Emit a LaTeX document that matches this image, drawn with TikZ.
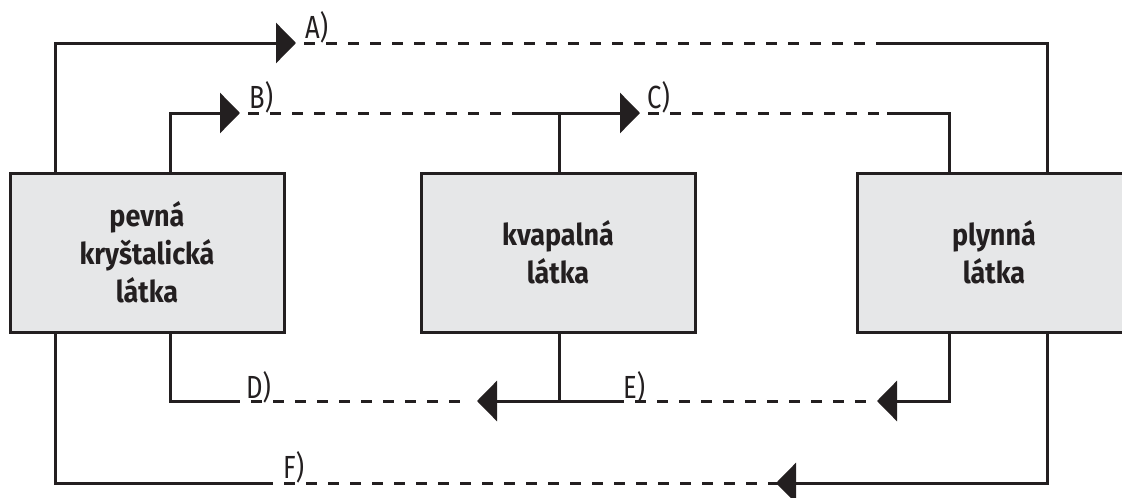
\documentclass[tikz,border=0pt]{standalone}
\usepackage{fontspec}
\setmainfont{Fira Sans}
\newfontfamily\boxfont[FakeStretch=0.9]{Fira Sans}
\newfontfamily\lblfont[FakeStretch=0.8]{Fira Sans}
\usetikzlibrary{arrows.meta}
\definecolor{ink}{HTML}{231F20}
\definecolor{boxgray}{HTML}{E6E7E8}
\begin{document}
\begin{tikzpicture}[x=1pt,y=-1pt,
  stbox/.style={draw=ink, fill=boxgray, line width=3pt, minimum width=274pt, minimum height=159pt,
    inner sep=0pt, align=center, text=ink, font=\boxfont\bfseries\fontsize{30}{38}\selectfont},
  ln/.style={draw=ink, line width=3pt},
  tipped/.style={-{Triangle[length=20pt,width=40pt]}},
  dsh/.style={draw=ink, line width=3pt, dash pattern=on 11pt off 11pt},
  lbl/.style={font=\lblfont\fontsize{32}{32}\selectfont, text=ink, inner sep=0pt, anchor=base west}]
\useasboundingbox (0,0) rectangle (1122,498);

% boxes
\node[stbox] (s) at (147,252.5) {pevná\\kryštalická\\látka};
\node[stbox] (l) at (558,252.5) {kvapalná\\látka};
\node[stbox] (g) at (994,252.5) {plynná\\látka};

% attachment points on boxes
\coordinate (sA) at (55,173);
\coordinate (sB) at (170,173);
\coordinate (sD) at (170,332);
\coordinate (sF) at (55,332);
\coordinate (lC) at (559,173);
\coordinate (lD) at (559,332);
\coordinate (gA) at (1047,173);
\coordinate (gB) at (949,173);
\coordinate (gE) at (949,332);
\coordinate (gF) at (1047,332);

% arrow tips and dash ends
\coordinate (aTip) at (296,43);
\coordinate (aD1) at (304,43);
\coordinate (aD2) at (883,43);
\coordinate (bTip) at (240,113);
\coordinate (bD1) at (248,113);
\coordinate (bD2) at (518,113);
\coordinate (cTip) at (640,113);
\coordinate (cD1) at (648,113);
\coordinate (cD2) at (887,113);
\coordinate (dS) at (229,401);
\coordinate (dD2) at (470,401);
\coordinate (dTip) at (477,401);
\coordinate (eS) at (613,401);
\coordinate (eD2) at (870,401);
\coordinate (eTip) at (877,401);
\coordinate (fS) at (262,483);
\coordinate (fD2) at (779,483);
\coordinate (fTip) at (776,483);

% A
\draw[ln,tipped] (sA) |- (aTip);
\draw[dsh] (aD1) -- (aD2);
\draw[ln] (aD2) -| (gA);
% B
\draw[ln,tipped] (sB) |- (bTip);
\draw[dsh] (bD1) -- (bD2);
% C
\draw[ln,tipped] (bD2) -- (cTip);
\draw[ln] (lC) -- (lC |- cTip);
\draw[dsh] (cD1) -- (cD2);
\draw[ln] (cD2) -| (gB);
% D
\draw[ln] (sD) |- (dS);
\draw[dsh] (dS) -- (dD2);
\draw[ln,tipped] (eS) -- (dTip);
\draw[ln] (lD) -- (lD |- dTip);
% E
\draw[dsh] (eS) -- (eD2);
\draw[ln,tipped] (gE) |- (eTip);
% F
\draw[ln] (sF) |- (fS);
\draw[dsh] (fS) -- (fD2);
\draw[ln,tipped] (gF) |- (fTip);

% labels
\node[lbl] (la) at (305,38) {A)};
\node[lbl] (lb) at (249,108) {B)};
\node[lbl] (lc) at (647,108) {C)};
\node[lbl] (ld) at (246,398) {D)};
\node[lbl] (le) at (623,398) {E)};
\node[lbl] (lf) at (283,478) {F)};
\end{tikzpicture}
\end{document}
